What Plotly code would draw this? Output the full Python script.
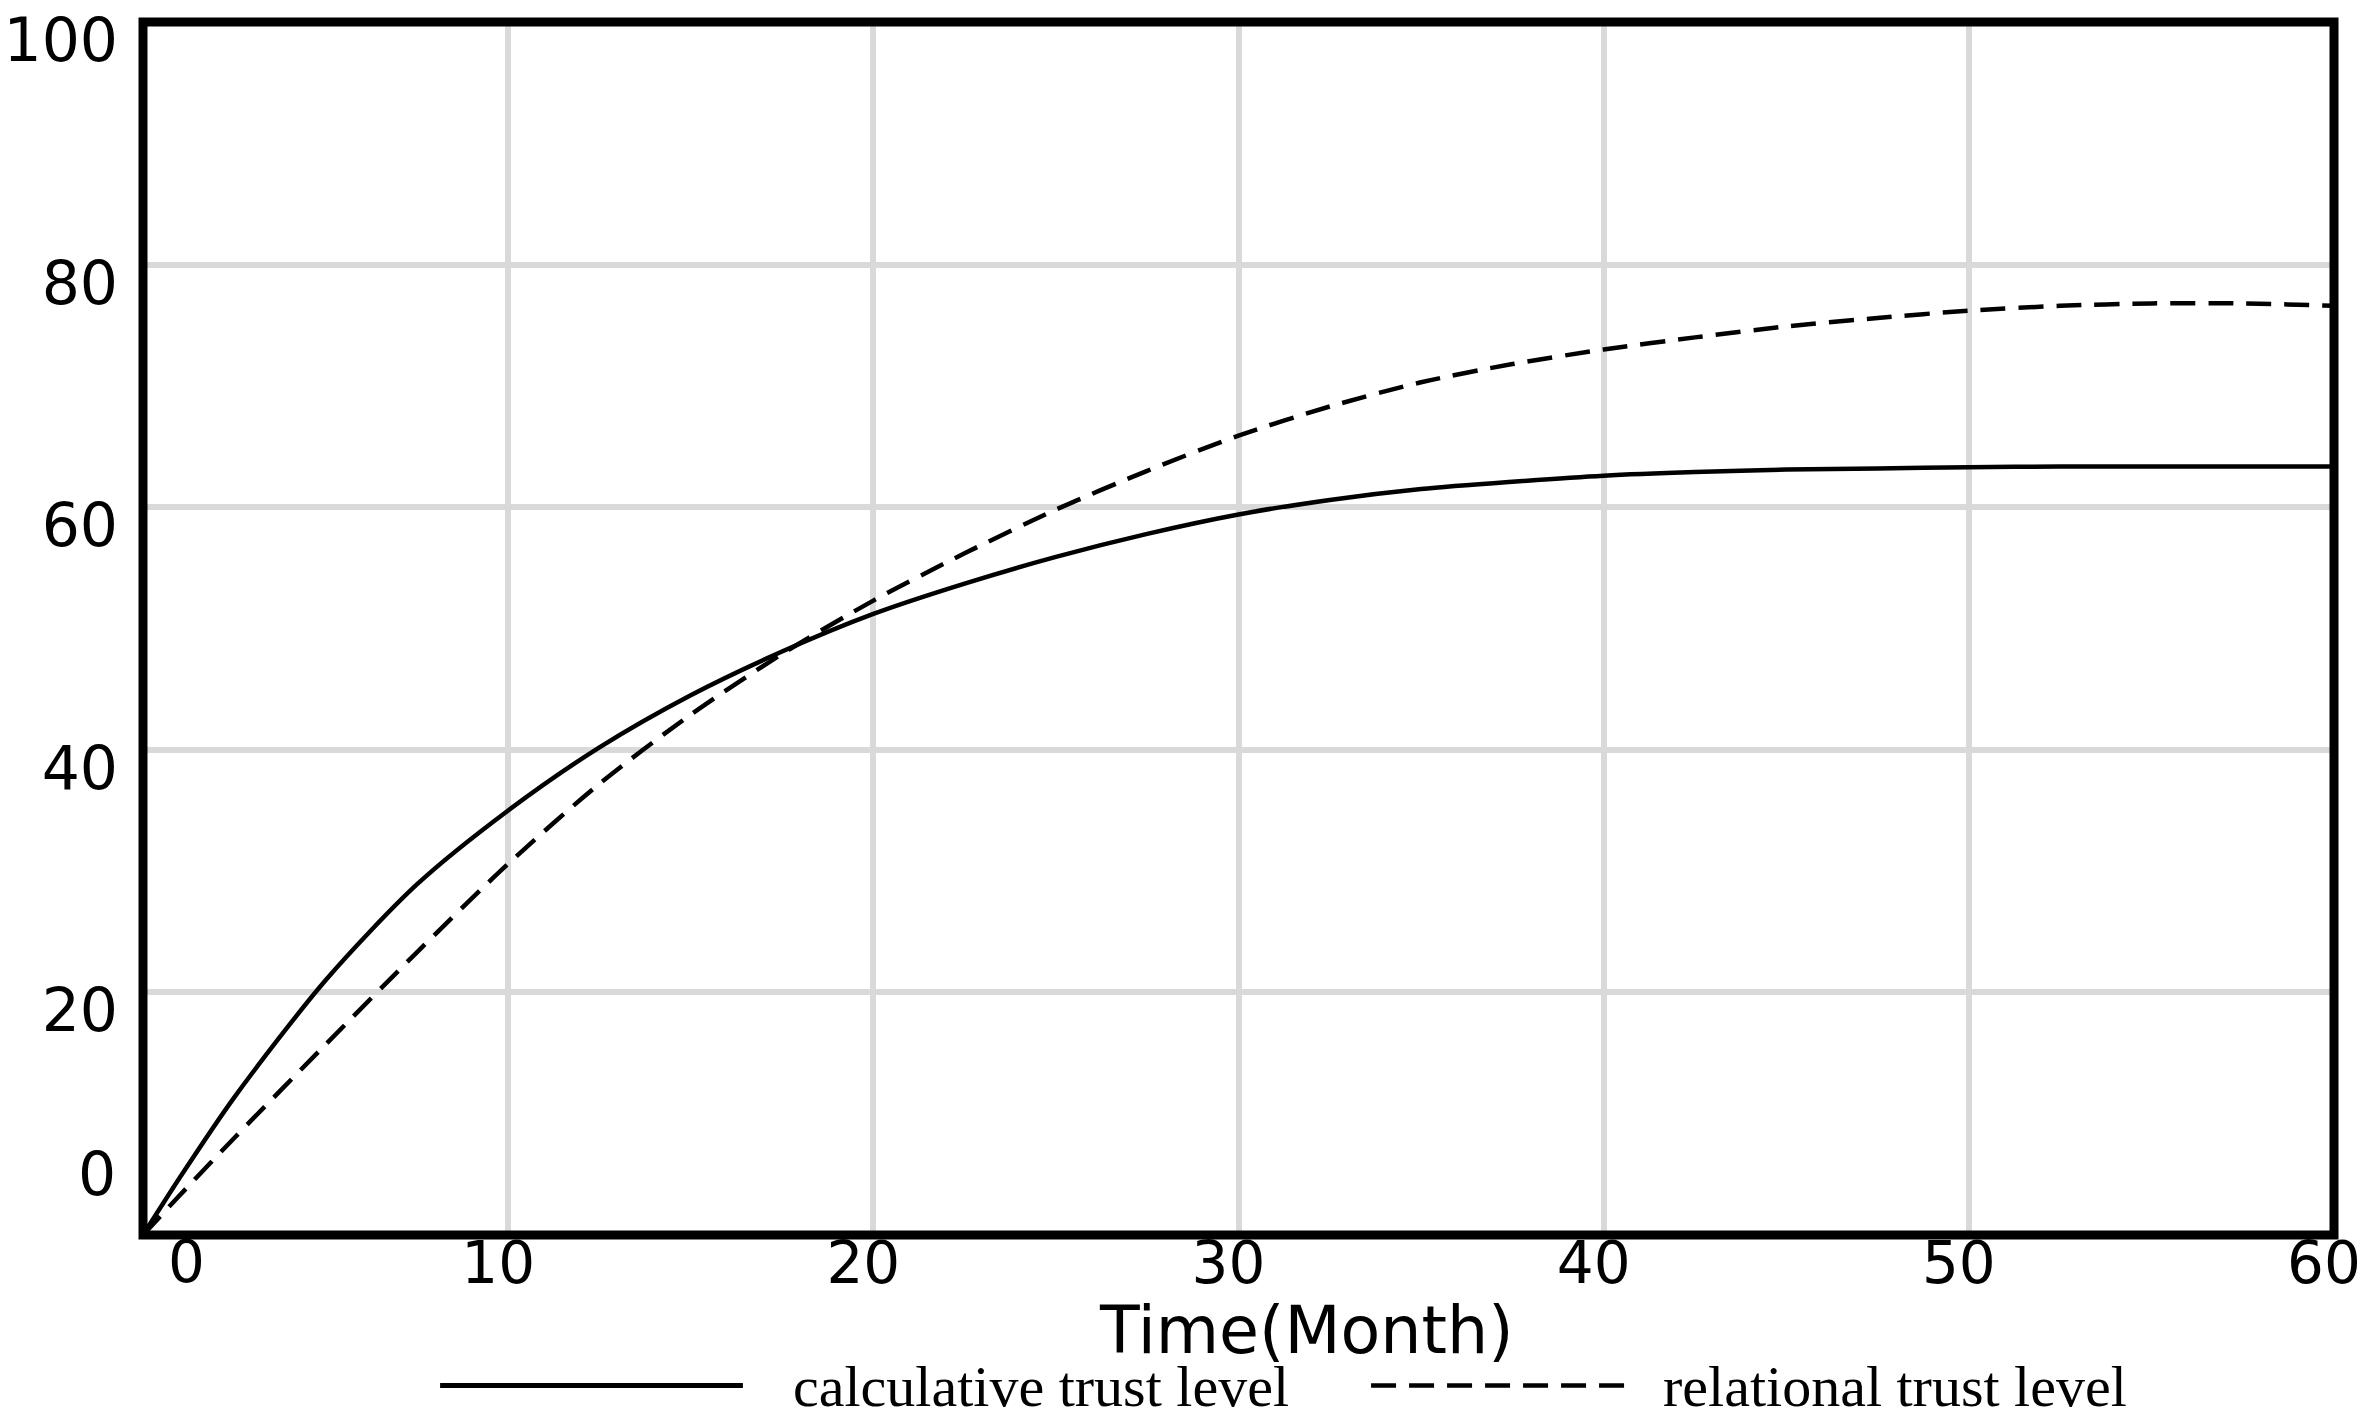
import plotly.graph_objects as go

# ---- data ----
months = [0, 1, 2.5, 5, 7.5, 10, 12.5, 15, 17.5, 20, 22.5, 25, 27.5, 30,
          32.5, 35, 37.5, 40, 42.5, 45, 47.5, 50, 52.5, 55, 57.5, 60]
calculative = [0, 4.7, 11.35, 21.0, 28.9, 35.0, 40.2, 44.5, 48.1, 51.2, 53.7, 55.9, 57.8, 59.4,
               60.6, 61.5, 62.1, 62.6, 62.9, 63.1, 63.2, 63.3, 63.35, 63.35, 63.35, 63.35]
relational = [0, 3.25, 8.0, 15.7, 23.3, 30.6, 37.2, 42.9, 47.9, 52.3, 56.2, 59.8, 63.0, 65.9,
              68.3, 70.3, 71.8, 73.0, 74.0, 74.9, 75.6, 76.2, 76.6, 76.8, 76.8, 76.6]

x_ticks = [0, 10, 20, 30, 40, 50, 60]
x_tick_text = ["", "10", "20", "30", "40", "50", "60"]
y_ticks = [0, 20, 40, 60, 80, 100]
y_tick_text = ["", "20", "40", "60", "80", "100"]
x_zero_label_pos = 1.18   # the "0" label sits right of the corner
y_zero_label_pos = 5.0    # the "0" label sits above the corner

series_names = ["calculative trust level", "relational trust level"]
x_title = "Time(Month)"

X_TICK_FONT = dict(family="DejaVu Sans", size=58, color="black")
Y_TICK_FONT = dict(family="DejaVu Sans", size=60, color="black")
LEG_FONT = dict(family="Liberation Serif", size=58, color="black")
DASH = "25px,13px"

fig = go.Figure()
fig.add_trace(go.Scatter(x=months, y=calculative, mode="lines", name=series_names[0],
                         line=dict(color="black", width=4.5, shape="spline", smoothing=0.8),
                         showlegend=False))
fig.add_trace(go.Scatter(x=months, y=relational, mode="lines", name=series_names[1],
                         line=dict(color="black", width=4.5, dash=DASH, shape="spline", smoothing=0.8),
                         showlegend=False))

axis_common = dict(showline=False, showgrid=True, gridcolor="#d9d9d9", gridwidth=6,
                   zeroline=False, ticks="", tickmode="array", automargin=False,
                   ticklabeloverflow="allow")

fig.update_xaxes(range=[0, 60], tickvals=x_ticks, ticktext=x_tick_text,
                 tickfont=X_TICK_FONT, ticklabelstandoff=-11, ticklabelshift=-10, **axis_common)
fig.update_yaxes(range=[0, 100], tickvals=y_ticks, ticktext=y_tick_text,
                 tickfont=Y_TICK_FONT, ticklabelstandoff=24, ticklabelshift=18, **axis_common)

annotations = [
    dict(text="0", x=x_zero_label_pos, xref="x", y=0, yref="paper",
         xanchor="center", yanchor="middle", yshift=-27, showarrow=False, font=X_TICK_FONT),
    dict(text="0", x=0, xref="paper", y=y_zero_label_pos, yref="y",
         xanchor="right", yanchor="middle", xshift=-25, showarrow=False, font=Y_TICK_FONT),
    dict(text=x_title, x=0.531, xref="paper", y=-0.079, yref="paper",
         xanchor="center", yanchor="middle", showarrow=False,
         font=dict(family="DejaVu Sans", size=65, color="black")),
    dict(text=series_names[0], x=0.2958, xref="paper", y=-0.125, yref="paper",
         xanchor="left", yanchor="middle", showarrow=False, font=LEG_FONT),
    dict(text=series_names[1], x=0.6930, xref="paper", y=-0.125, yref="paper",
         xanchor="left", yanchor="middle", showarrow=False, font=LEG_FONT),
]

shapes = [
    # plot frame, centred on the plot edges
    dict(type="rect", xref="paper", yref="paper", x0=0, x1=1, y0=0, y1=1,
         line=dict(color="black", width=9), layer="above"),
    # legend samples
    dict(type="line", xref="paper", yref="paper", x0=0.1356, x1=0.2738, y0=-0.124, y1=-0.124,
         line=dict(color="black", width=5)),
    dict(type="line", xref="paper", yref="paper", x0=0.5605, x1=0.6778, y0=-0.124, y1=-0.124,
         line=dict(color="black", width=4.5, dash=DASH)),
]

fig.update_layout(width=2373, height=1421,
                  margin=dict(l=135, r=47, t=14, b=194),
                  paper_bgcolor="white", plot_bgcolor="white",
                  annotations=annotations, shapes=shapes, showlegend=False)

fig.write_html("out.html")
